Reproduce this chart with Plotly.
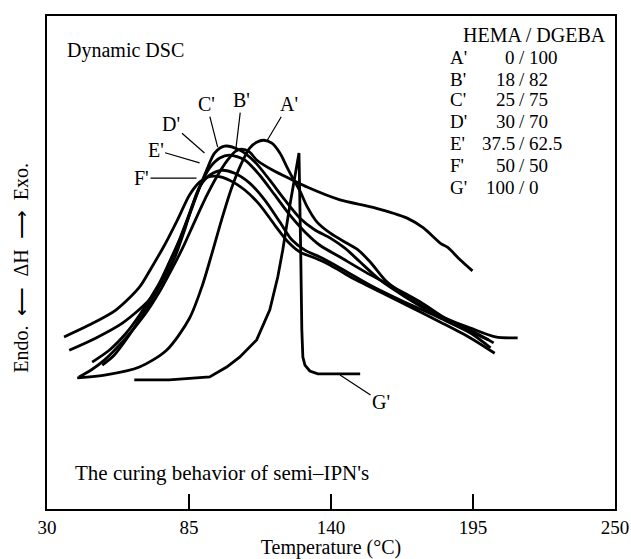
import plotly.graph_objects as go

# ---- data: temperature (°C) and heat flow (a.u.) ----
T_A = [41.7, 52.9, 65.8, 76.3, 85.2, 90.2, 93.7, 97.6, 101.5, 105.4, 108.5, 111.2, 114.0,
       117.1, 120.2, 122.9, 125.2, 128.0, 130.7, 134.6, 139.6, 146.2, 150.1, 155.2, 161.0,
       166.8, 174.6, 184.3, 194.0, 203.7, 212.3]
H_A = [26.6, 27.2, 28.8, 32.2, 38.7, 45.4, 51.5, 58.6, 65.1, 70.2, 73.2, 74.4, 74.8,
       74.2, 72.2, 69.4, 67.1, 64.5, 61.4, 58.2, 56.0, 53.9, 52.7, 50.1, 46.4,
       44.0, 41.4, 38.7, 36.7, 34.9, 34.7]

T_B = [42.4, 47.1, 52.2, 59.9, 67.7, 73.5, 78.2, 82.5, 87.1, 91.8, 96.1, 100.0, 103.1, 105.4,
       108.5, 111.2, 117.5, 125.2, 130.7, 143.5, 156.3, 169.5, 175.8, 182.4, 185.1, 190.1, 194.8]
H_B = [26.8, 28.2, 30.2, 34.3, 39.3, 44.0, 48.5, 52.9, 58.2, 63.5, 67.7, 70.8, 72.6, 73.0,
       72.4, 70.8, 68.7, 66.7, 65.3, 62.7, 61.2, 59.0, 57.0, 53.9, 53.1, 50.5, 48.3]

T_C = [51.4, 56.0, 61.9, 67.7, 72.8, 76.6, 80.5, 84.4, 88.3, 91.8, 94.9, 98.8, 104.6, 110.5,
       116.3, 122.1, 128.0, 133.8, 139.6, 145.4, 151.3, 159.1, 168.8, 178.5, 188.2, 201.0]
H_C = [29.2, 31.2, 35.3, 40.0, 44.4, 48.9, 53.5, 58.6, 64.1, 68.7, 72.2, 73.6, 72.8, 70.4,
       66.7, 62.7, 59.0, 56.6, 55.0, 52.9, 50.1, 46.4, 43.0, 40.0, 37.3, 34.3]

T_D = [47.5, 54.1, 60.7, 65.8, 69.6, 73.5, 77.4, 81.3, 85.2, 89.1, 93.0, 96.9, 100.7, 106.6,
       112.4, 118.2, 124.1, 129.9, 135.7, 143.5, 153.2, 164.9, 174.6, 184.3, 194.0, 203.0]
H_D = [29.8, 32.2, 35.7, 39.3, 42.4, 45.8, 50.1, 54.6, 60.0, 65.3, 69.2, 71.2, 71.8, 70.8,
       67.7, 63.7, 59.6, 56.2, 53.5, 51.1, 48.1, 44.8, 42.0, 38.7, 36.3, 33.7]

T_E = [38.6, 49.0, 59.2, 69.6, 75.5, 79.4, 83.3, 86.4, 89.1, 93.0, 97.6, 102.7, 108.5, 114.3,
       120.2, 124.8, 129.9, 135.7, 143.5, 155.2, 166.8, 182.4, 194.0, 201.8]
H_E = [32.2, 34.7, 37.7, 42.4, 46.8, 50.9, 56.6, 61.7, 65.3, 67.7, 68.7, 68.1, 66.1, 62.7,
       58.2, 54.6, 52.5, 51.1, 48.9, 45.4, 42.4, 38.7, 35.7, 32.7]

T_F = [36.6, 46.3, 56.8, 65.8, 70.4, 75.5, 80.5, 85.2, 89.1, 92.2, 95.7, 100.7, 106.6, 112.4,
       118.2, 123.3, 128.0, 133.8, 139.6, 147.4, 159.1, 170.7, 182.4, 194.0, 203.4]
H_F = [34.9, 37.3, 40.4, 45.0, 48.9, 53.5, 58.6, 63.7, 66.3, 67.3, 67.5, 66.7, 64.7, 61.7,
       57.6, 54.2, 52.1, 50.9, 49.5, 47.1, 44.0, 41.0, 37.9, 34.7, 31.6]

T_G = [63.8, 77.4, 93.0, 99.6, 104.6, 111.2, 116.3, 119.4, 121.3, 124.1, 127.6,
       128.0, 128.3, 128.7, 129.1, 129.9, 131.8, 134.9, 151.3]
H_G = [26.2, 26.2, 26.8, 28.8, 30.8, 34.3, 40.4, 47.1, 52.5, 61.7, 72.2,
       62.7, 51.1, 36.3, 30.8, 29.2, 28.0, 27.4, 27.4]

curve_labels = ["A'", "B'", "C'", "D'", "E'", "F'", "G'"]
label_tip_T = [115.1, 103.1, 96.1, 91.0, 89.1, 87.9, 143.5]
label_tip_H = [74.6, 72.8, 73.4, 72.2, 70.2, 67.1, 27.2]

legend_title = "HEMA / DGEBA"
legend_hema = ["0", "18", "25", "30", "37.5", "50", "100"]
legend_dgeba = ["100", "82", "75", "70", "62.5", "50", "0"]

x_ticks = [30, 85, 140, 195, 250]

FONT = "Liberation Serif, Times New Roman, serif"

fig = go.Figure()
series = [(T_A, H_A), (T_B, H_B), (T_C, H_C), (T_D, H_D), (T_E, H_E), (T_F, H_F)]
for (t, h), name in zip(series, curve_labels[:6]):
    fig.add_trace(go.Scatter(x=t, y=h, mode="lines", name=name,
                             line=dict(color="black", width=2.8, shape="spline", smoothing=0.8),
                             showlegend=False, hoverinfo="skip"))
fig.add_trace(go.Scatter(x=T_G, y=H_G, mode="lines", name="G'",
                         line=dict(color="black", width=2.8, shape="linear"),
                         showlegend=False, hoverinfo="skip"))

# curve labels with leader lines
offsets = [(22, -37), (6, -50), (-11, -43), (-33, -29), (-44, -13), (-55, 0), (41, 27)]
for lab, tx, hy, (ax, ay) in zip(curve_labels, label_tip_T, label_tip_H, offsets):
    fig.add_annotation(x=tx, y=hy, text=lab, showarrow=True, arrowhead=0, arrowwidth=1.2,
                       arrowcolor="black", ax=ax, ay=ay, standoff=0,
                       font=dict(family=FONT, size=20, color="black"))

# legend block
fig.add_annotation(xref="paper", yref="paper", x=0.859, y=0.961, text=legend_title,
                   xanchor="center", yanchor="middle",
                   showarrow=False, font=dict(family=FONT, size=20, color="black"))
row_y = [0.915, 0.872, 0.830, 0.785, 0.742, 0.696, 0.653]
for lab, a, b, yy in zip(curve_labels, legend_hema, legend_dgeba, row_y):
    f = dict(family=FONT, size=19, color="black")
    fig.add_annotation(xref="paper", yref="paper", x=0.706, y=yy, text=lab, xanchor="left",
                       yanchor="middle", showarrow=False, font=f)
    fig.add_annotation(xref="paper", yref="paper", x=0.827, y=yy, text=a, xanchor="right",
                       yanchor="middle", showarrow=False, font=f)
    fig.add_annotation(xref="paper", yref="paper", x=0.836, y=yy, text="/", xanchor="center",
                       yanchor="middle", showarrow=False, font=f)
    fig.add_annotation(xref="paper", yref="paper", x=0.845, y=yy, text=b, xanchor="left",
                       yanchor="middle", showarrow=False, font=f)

fig.add_annotation(xref="paper", yref="paper", x=0.032, y=0.931, text="Dynamic DSC",
                   xanchor="left", yanchor="middle", showarrow=False,
                   font=dict(family=FONT, size=20, color="black"))
fig.add_annotation(xref="paper", yref="paper", x=0.046, y=0.073,
                   text="The curing behavior of semi\u2013IPN's",
                   xanchor="left", yanchor="middle", showarrow=False,
                   font=dict(family=FONT, size=21, color="black"))
fig.add_annotation(xref="paper", yref="paper", x=-0.046, y=0.489,
                   text="Endo.  \u27f5  \u0394H  \u27f6  Exo.", textangle=-90,
                   xanchor="center", yanchor="middle",
                   showarrow=False, font=dict(family=FONT, size=20, color="black"))

fig.update_layout(
    width=631, height=559,
    margin=dict(l=47, r=16, t=16, b=50),
    paper_bgcolor="white", plot_bgcolor="white",
    font=dict(family=FONT, color="black"),
    xaxis=dict(range=[30, 250], tickvals=x_ticks, ticktext=[str(v) for v in x_ticks],
               ticks="inside", ticklen=15, tickwidth=1.5, tickcolor="black",
               showline=True, linecolor="black", linewidth=2, mirror=True,
               showgrid=False, zeroline=False, tickfont=dict(family=FONT, size=19),
               title=dict(text="Temperature (°C)", font=dict(family=FONT, size=20), standoff=2),
               automargin=False),
    yaxis=dict(range=[0, 100], showticklabels=False, ticks="",
               showline=True, linecolor="black", linewidth=2, mirror=True,
               showgrid=False, zeroline=False, automargin=False),
)

fig.write_html("out.html", config={"displayModeBar": False},
               post_script="document.body.style.margin='0';document.body.style.overflow='hidden';")
